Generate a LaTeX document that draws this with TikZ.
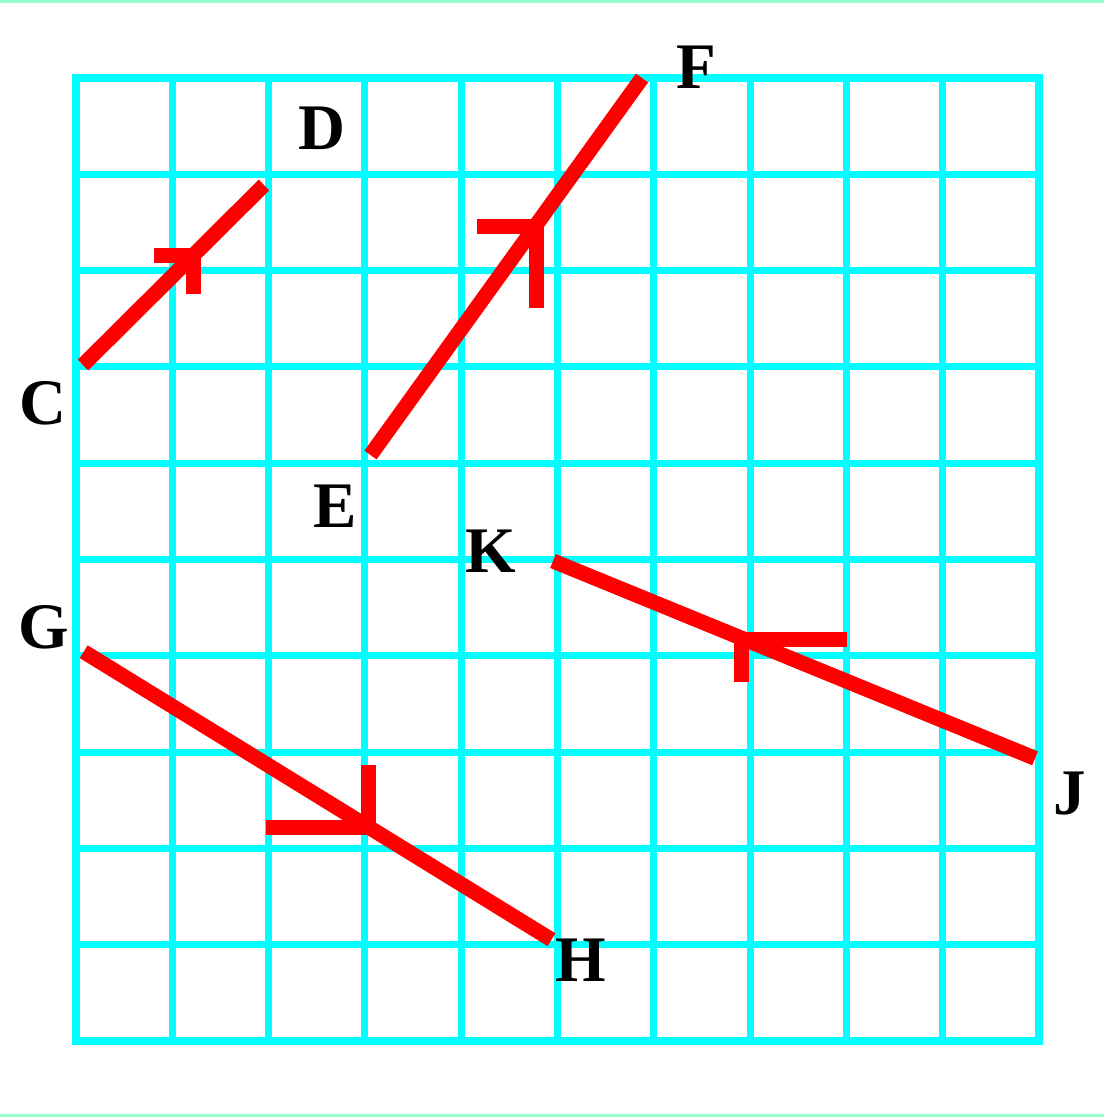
\documentclass[tikz,border=0pt]{standalone}
\usepackage{fontspec}
\setmainfont{Liberation Serif}
\definecolor{gridcyan}{RGB}{0,255,255}
\definecolor{segred}{RGB}{255,0,0}
\definecolor{edgegreen}{RGB}{153,255,204}
\begin{document}
\begin{tikzpicture}[x=1pt,y=-1pt,
  gridline/.style={draw=gridcyan, line width=7pt},
  gridborder/.style={draw=gridcyan, line width=8.5pt, line join=miter},
  seg/.style={draw=segred, line width=15pt, line cap=butt},
  tick/.style={draw=segred, line width=15pt, line cap=butt, line join=miter},
  lbl/.style={inner sep=0pt, font=\fontsize{65}{65}\selectfont\bfseries},
  edge/.style={fill=edgegreen, draw=none}]
\useasboundingbox (0,0) rectangle (1104,1117);
\fill[white] (0,0) rectangle (1104,1117);
% faint green edges
\path[edge] (0,0) rectangle (1104,2.5);
\path[edge] (0,1114) rectangle (1104,1117);
% grid
\foreach \i in {1,...,9} {
  \pgfmathsetmacro{\xx}{76+\i*96.3}
  \pgfmathsetmacro{\yy}{78+\i*96.3}
  \draw[gridline] (\xx,78) -- (\xx,1041);
  \draw[gridline] (76,\yy) -- (1039,\yy);
}
\draw[gridborder] (76,78) rectangle (1039,1041);
% endpoints
\coordinate (C) at (83,365);
\coordinate (D) at (264,185);
\coordinate (E) at (370.5,455);
\coordinate (F) at (642,78);
\coordinate (G) at (83.7,651.7);
\coordinate (H) at (551.5,939.7);
\coordinate (K) at (553,561);
\coordinate (J) at (1035,758.3);
% segments
\draw[seg] (C) -- (D);
\draw[seg] (E) -- (F);
\draw[seg] (G) -- (H);
\draw[seg] (K) -- (J);
% tick marks
\coordinate (t1) at (193,255);
\coordinate (t2) at (536,226);
\coordinate (t3) at (368.5,827.5);
\coordinate (t4) at (741,639);
\draw[tick] (154,255) -- (t1) -- (193,294);
\draw[tick] (477,226) -- (t2) -- (536,308);
\draw[tick] (266,827.5) -- (t3) -- (368.5,765);
\draw[tick] (847,639) -- (t4) -- (741,682);
% labels
\node[lbl] (lD) at (321.5,128) {D};
\node[lbl] (lF) at (696.5,67) {F};
\node[lbl] (lC) at (42.5,403) {C};
\node[lbl] (lE) at (335,506.5) {E};
\node[lbl] (lK) at (490.5,551.5) {K};
\node[lbl] (lG) at (43.7,627.5) {G};
\node[lbl] (lJ) at (1070,794) {J};
\node[lbl] (lH) at (581,960) {H};
\end{tikzpicture}
\end{document}
